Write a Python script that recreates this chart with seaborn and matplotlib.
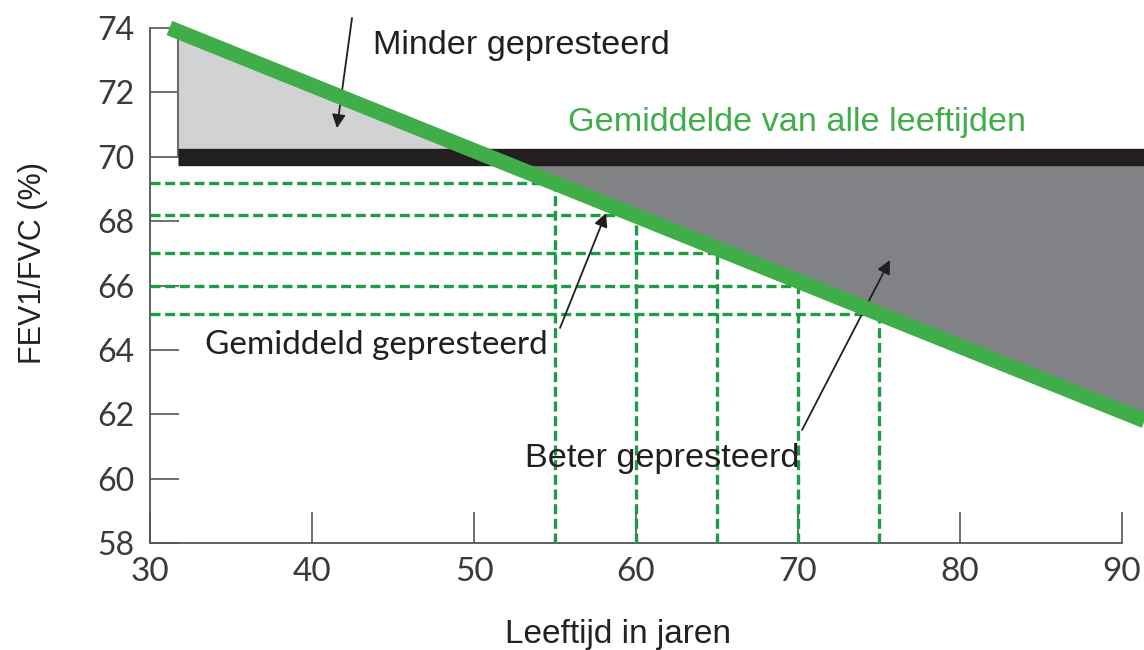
import seaborn as sns
import matplotlib.pyplot as plt
import pandas as pd

trend_age = [31.2, 91.4]
trend_fev = [74.0, 61.8]
mark_age = [55, 60, 65, 70, 75]
mark_fev = [69.2, 68.2, 67.0, 66.0, 65.1]
average_level = 70.0
bar_start = 31.75
light_age = [31.75, 51.0]
light_top = [73.85, 70.0]
dark_age = [51.0, 91.4]
dark_bottom = [70.0, 61.8]

x_ticks = [30, 40, 50, 60, 70, 80, 90]
y_ticks = [58, 60, 62, 64, 66, 68, 70, 72, 74]

GREEN = '#3fae49'
DASH = '#1e9b45'
INK = '#231f20'

sns.set_style('white')
plt.rcParams['font.family'] = ['Liberation Sans', 'DejaVu Sans']

fig = plt.figure(figsize=(11.44, 6.5), dpi=100)
ax = fig.add_axes([150 / 1144, 107 / 650, 994 / 1144, 543 / 650])
ax.set_xlim(30, 91.36)
ax.set_ylim(58, 74.87)

# shaded regions
ax.fill_between(light_age, light_top, average_level, color='#d1d2d4', lw=0, zorder=1)
ax.plot([bar_start, bar_start], [average_level, 74.0], color='#6d6e71', lw=1.5, zorder=2)
ax.fill_between(dark_age, dark_bottom, average_level, color='#808285', lw=0, zorder=1)

# dashed guide lines from the axes to the trend line
for a, f in zip(mark_age, mark_fev):
    ax.plot([30, a], [f, f], color=DASH, lw=2.4, ls=(0, (3.0, 1.4)), zorder=3)
    ax.plot([a, a], [58, f], color=DASH, lw=2.4, ls=(0, (3.0, 1.4)), zorder=3)

# black bar at the average
ax.plot([bar_start, 91.36], [average_level, average_level], color=INK, lw=12.5,
        solid_capstyle='butt', zorder=4)

trend = pd.DataFrame({'age': trend_age, 'fev': trend_fev})
sns.lineplot(data=trend, x='age', y='fev', color=GREEN, lw=11, ax=ax, zorder=5,
             solid_capstyle='butt')
for line in ax.lines:
    line.set_clip_on(False)

# axes styling
for side in ['top', 'right']:
    ax.spines[side].set_visible(False)
for side in ['left', 'bottom']:
    ax.spines[side].set_color('#555555')
    ax.spines[side].set_linewidth(1.3)
ax.spines['left'].set_bounds(58, 74)
ax.spines['bottom'].set_bounds(30, 90)
ax.set_xticks(x_ticks)
ax.set_yticks(y_ticks)
ax.tick_params(axis='y', left=True, direction='in', length=21, width=1.2, color='#555555',
               pad=11, labelsize=23, labelcolor='#3a3a3a')
ax.tick_params(axis='x', bottom=True, direction='in', length=22, width=1.2, color='#555555',
               pad=10, labelsize=24, labelcolor='#3a3a3a')
for lab in ax.get_xticklabels() + ax.get_yticklabels():
    lab.set_family(['Lato', 'DejaVu Sans'])

ax.set_xlabel('Leeftijd in jaren', fontsize=24, color='#222222')
ax.xaxis.set_label_coords((618 - 150) / 994, -0.14)
ax.set_ylabel('FEV1/FVC (%)', fontsize=22, color='#222222')
ax.yaxis.set_label_coords(-0.103, 0.516)

# annotations
ax.text(43.77, 73.47, 'Minder gepresteerd', fontsize=24.7, color=INK, va='center')
ax.text(55.8, 71.05, 'Gemiddelde van alle leeftijden', fontsize=24.7, color=GREEN, va='center')
ax.text(33.4, 64.15, 'Gemiddeld gepresteerd', fontsize=24, color=INK, va='center',
        family=['Lato', 'DejaVu Sans'])
ax.text(53.15, 60.64, 'Beter gepresteerd', fontsize=24.7, color=INK, va='center')

arrow = dict(arrowstyle='-|>', lw=1.3, color=INK, mutation_scale=20, shrinkA=0, shrinkB=0)
ax.annotate('', xy=(41.54, 70.89), xytext=(42.47, 74.31), arrowprops=arrow, annotation_clip=False)
ax.annotate('', xy=(58.15, 68.25), xytext=(55.31, 64.68), arrowprops=arrow)
ax.annotate('', xy=(75.68, 66.79), xytext=(70.25, 61.51), arrowprops=arrow)

fig.savefig('out.png', dpi=100)
